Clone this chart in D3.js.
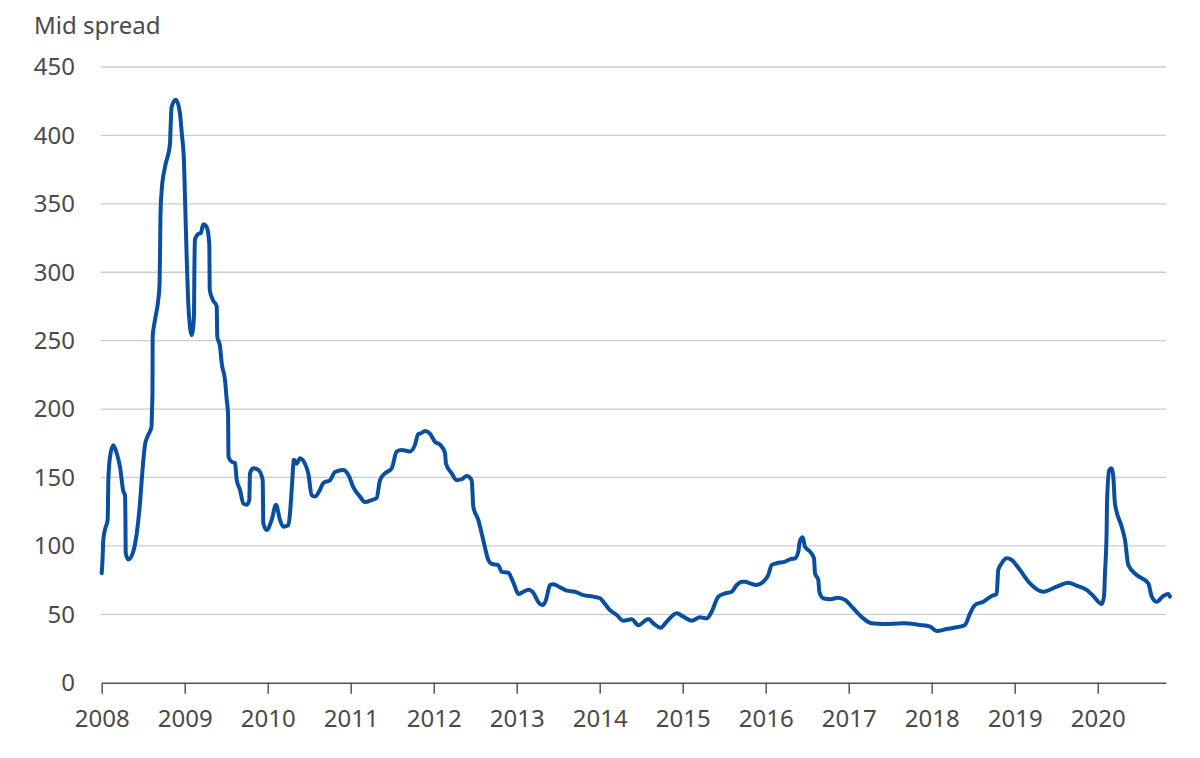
<!DOCTYPE html>
<html>
<head>
<meta charset="utf-8">
<script src="https://cdn.jsdelivr.net/npm/d3@7"></script>
<style>
  body { margin: 0; background: #fff; }
  svg { display: block; font-family: "Noto Sans", sans-serif; }
</style>
</head>
<body>
<svg width="1200" height="758"></svg>
<script>
const svg = d3.select('svg');

// decimal year of each reading
const dates = [
  2008.000, 2008.010, 2008.019, 2008.040, 2008.072, 2008.080, 2008.100, 2008.140, 2008.184, 2008.220,
  2008.260, 2008.281, 2008.286, 2008.289, 2008.320, 2008.381, 2008.422, 2008.461, 2008.482, 2008.522,
  2008.552, 2008.600, 2008.606, 2008.612, 2008.614, 2008.642, 2008.682, 2008.696, 2008.702, 2008.708,
  2008.723, 2008.763, 2008.823, 2008.829, 2008.843, 2008.895, 2008.943, 2008.964, 2008.992, 2009.004,
  2009.024, 2009.043, 2009.064, 2009.084, 2009.112, 2009.116, 2009.124, 2009.164, 2009.193, 2009.224,
  2009.265, 2009.296, 2009.302, 2009.337, 2009.386, 2009.392, 2009.425, 2009.446, 2009.486, 2009.506,
  2009.522, 2009.528, 2009.566, 2009.606, 2009.627, 2009.666, 2009.706, 2009.747, 2009.778, 2009.787,
  2009.827, 2009.887, 2009.940, 2009.947, 2009.988, 2010.048, 2010.100, 2010.148, 2010.188, 2010.248,
  2010.269, 2010.289, 2010.317, 2010.349, 2010.389, 2010.449, 2010.489, 2010.530, 2010.570, 2010.630,
  2010.670, 2010.751, 2010.811, 2010.911, 2010.971, 2011.031, 2011.112, 2011.172, 2011.253, 2011.313,
  2011.353, 2011.413, 2011.494, 2011.554, 2011.614, 2011.714, 2011.775, 2011.815, 2011.835, 2011.895,
  2011.955, 2012.016, 2012.076, 2012.136, 2012.148, 2012.217, 2012.277, 2012.337, 2012.398, 2012.458,
  2012.477, 2012.537, 2012.598, 2012.658, 2012.699, 2012.778, 2012.819, 2012.899, 2012.940, 2012.980,
  2013.019, 2013.080, 2013.140, 2013.200, 2013.260, 2013.313, 2013.353, 2013.401, 2013.441, 2013.522,
  2013.602, 2013.702, 2013.802, 2013.923, 2014.004, 2014.064, 2014.124, 2014.205, 2014.284, 2014.386,
  2014.465, 2014.586, 2014.646, 2014.735, 2014.807, 2014.928, 2015.007, 2015.108, 2015.208, 2015.289,
  2015.349, 2015.429, 2015.510, 2015.590, 2015.651, 2015.711, 2015.751, 2015.811, 2015.892, 2015.971,
  2016.031, 2016.072, 2016.133, 2016.233, 2016.293, 2016.353, 2016.393, 2016.413, 2016.446, 2016.473,
  2016.534, 2016.582, 2016.594, 2016.634, 2016.646, 2016.694, 2016.775, 2016.875, 2016.955, 2017.055,
  2017.176, 2017.277, 2017.417, 2017.658, 2017.859, 2017.980, 2018.060, 2018.181, 2018.301, 2018.401,
  2018.462, 2018.522, 2018.622, 2018.723, 2018.783, 2018.802, 2018.843, 2018.904, 2018.964, 2019.064,
  2019.184, 2019.345, 2019.506, 2019.646, 2019.747, 2019.867, 2019.947, 2020.048, 2020.076, 2020.088,
  2020.108, 2020.112, 2020.140, 2020.169, 2020.188, 2020.208, 2020.289, 2020.329, 2020.369, 2020.470,
  2020.610, 2020.651, 2020.711, 2020.790, 2020.851, 2020.871
];

// mid spread, basis points
const spread = [
  80, 90, 104, 112, 119, 148, 165, 173.6, 167, 158,
  140, 137, 118, 95, 90, 96, 109, 131, 148, 174,
  180, 187, 199, 214, 253, 265, 280, 290, 311, 341,
  360, 377, 394, 404, 421, 426, 416, 402, 380, 353,
  311, 277, 260, 254, 268, 297, 324, 328, 328.5, 335,
  333, 321, 287, 280, 275, 253, 246, 233.5, 221, 207,
  197, 165, 161.5, 160.6, 148, 141, 131, 130, 133.5, 153,
  156.7, 155.5, 148, 116.5, 111.6, 119, 130, 119, 114, 115,
  124, 141, 163, 160, 164, 160, 153, 137, 136, 141,
  146, 148, 154, 155.5, 152, 143, 136, 132, 133.5, 135,
  148, 153, 156.7, 169, 170, 169, 174, 182, 182, 184,
  182, 176, 174, 168, 160, 153, 148, 148.7, 151, 148,
  128.7, 119, 104, 89.7, 86.8, 86, 81, 80.4, 76, 70,
  64.8, 66.5, 68, 65.8, 59, 56.8, 60.5, 71.4, 72, 69.7,
  67.3, 66.5, 64, 62.9, 61.7, 57.5, 53, 49.5, 45.3, 46.3,
  42, 46.6, 43.4, 40.2, 44.6, 50.7, 48.3, 45.3, 47.8, 47,
  51.9, 62.9, 65.3, 66.5, 71.4, 73.8, 73.8, 72.6, 71.4, 73.8,
  78.7, 86, 87.3, 88.5, 90.2, 90.9, 95.8, 103.8, 106.3, 99.4,
  95.8, 90.9, 80, 75, 66.5, 61.7, 61, 62.1, 60.5, 54.4,
  47, 43.4, 42.9, 43.4, 42.2, 41, 37.8, 39.2, 40.5, 42.2,
  50.7, 56.8, 59.2, 63.4, 64.8, 82.4, 87.3, 90.9, 89.7, 82.4,
  72.6, 66.5, 70.2, 73.1, 70.9, 67.8, 63.4, 57.5, 62.9, 80,
  111.6, 131, 155.5, 156.7, 150.6, 131, 114, 104.3, 86, 78.7,
  72.6, 62.9, 59.2, 63.4, 64.8, 62.9
];

const yTicks = [0, 50, 100, 150, 200, 250, 300, 350, 400, 450];
const xTicks = [2008, 2009, 2010, 2011, 2012, 2013, 2014, 2015, 2016, 2017, 2018, 2019, 2020];

const data = dates.map((d, i) => ({ t: d, v: spread[i] }));

const plotLeft = 101.7;
const plotRight = 1166;
const plotTop = 67;
const plotBottom = 682.7;

const x = d3.scaleLinear().domain([2008, 2020.823]).range([plotLeft, plotRight]);
const y = d3.scaleLinear().domain([0, 450]).range([plotBottom, plotTop]);

// gridlines
svg.append('g')
  .selectAll('line')
  .data(yTicks.filter(d => d > 0))
  .enter().append('line')
  .attr('x1', plotLeft - 1)
  .attr('x2', plotRight)
  .attr('y1', d => y(d))
  .attr('y2', d => y(d))
  .attr('stroke', '#c9cdd3')
  .attr('stroke-width', 1.3);

// y labels
svg.append('g')
  .selectAll('text')
  .data(yTicks)
  .enter().append('text')
  .attr('x', 75)
  .attr('y', d => y(d))
  .attr('dy', '0.35em')
  .attr('text-anchor', 'end')
  .attr('fill', '#4a4a4a')
  .style('font-size', '24px')
  .text(d => d);

// x axis
const xAxis = svg.append('g')
  .attr('transform', `translate(0,${plotBottom})`)
  .call(d3.axisBottom(x).tickValues(xTicks).tickFormat(d3.format('d')).tickSize(11).tickSizeOuter(0));

xAxis.select('.domain').attr('stroke', '#555').attr('stroke-width', 1.5);
xAxis.selectAll('.tick line').attr('stroke', '#555').attr('stroke-width', 1.5);
xAxis.selectAll('.tick text')
  .attr('fill', '#4a4a4a')
  .attr('y', 27)
  .style('font-family', '"Noto Sans", sans-serif')
  .style('font-size', '24px');

// title
svg.append('text')
  .attr('x', 34)
  .attr('y', 34)
  .attr('fill', '#4a4a4a')
  .style('font-size', '24px')
  .text('Mid spread');

const line = d3.line()
  .x(d => x(d.t))
  .y(d => y(d.v))
  .curve(d3.curveMonotoneX);

svg.append('path')
  .datum(data)
  .attr('fill', 'none')
  .attr('stroke', '#0a4f9f')
  .attr('stroke-width', 4)
  .attr('stroke-linejoin', 'round')
  .attr('stroke-linecap', 'round')
  .attr('d', line);
</script>
</body>
</html>
